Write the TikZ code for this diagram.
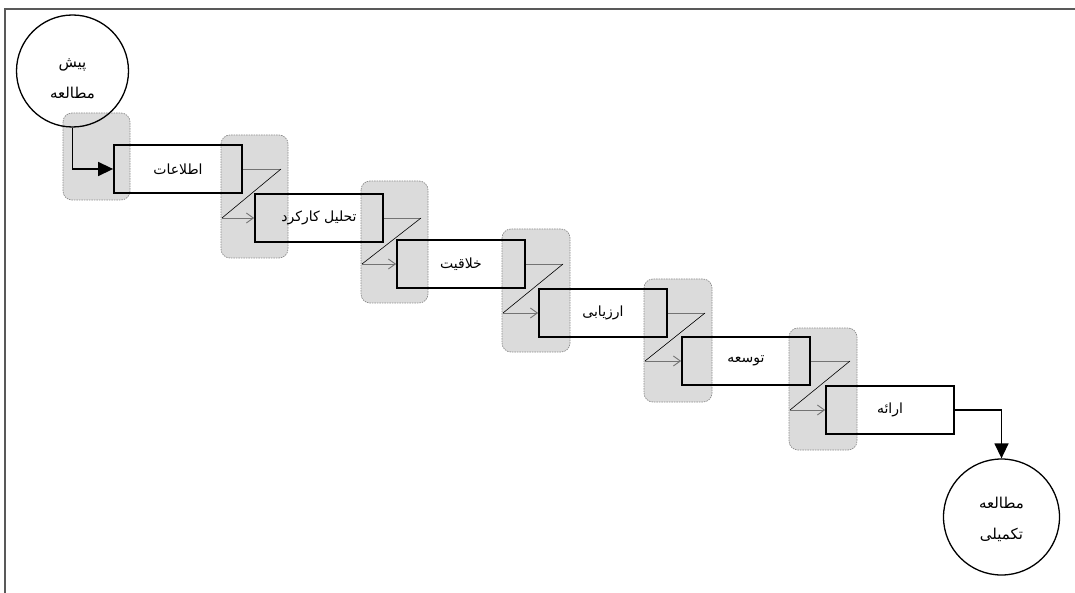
\documentclass[tikz,border=0pt]{standalone}
\usepackage{fontspec}
\newfontfamily\arabicfont[Script=Arabic]{DejaVu Sans}
\TeXXeTstate=1
\usetikzlibrary{arrows.meta}
\begin{document}
\begin{tikzpicture}[x=1pt,y=-1pt,
  stepbox/.style={draw=black, line width=1.8pt, minimum width=128pt, minimum height=48pt, inner sep=0pt, font=\arabicfont\fontsize{14}{16}\selectfont},
  graybox/.style={fill=black!14, draw=black!45, dash pattern=on 1.5pt off 1pt, line width=0.7pt, rounded corners=9pt},
  endcircle/.style={circle, draw=black, line width=1.3pt, minimum size=#1, inner sep=0pt},
  circtext/.style={align=center, font=\arabicfont\fontsize{15}{31}\selectfont, inner sep=0pt},
  hline/.style={draw=black!55, line width=0.9pt},
  diag/.style={draw=black, line width=0.6pt},
  openarrow/.style={draw=black!55, line width=0.9pt, -{Straight Barb[length=7pt,width=10pt]}},
  mainarrow/.style={draw=black, line width=1.5pt, -{Triangle[length=15pt,width=14pt]}},
  frameline/.style={draw=black!65, line width=1.3pt}
]
\useasboundingbox (0,0) rectangle (1075,593);
\draw[frameline] (5,593) -- (5,9) -- (1075,9);

% gray boxes
\path[graybox] (63,113) rectangle (130,200);
\path[graybox] (221,135) rectangle (288,258);
\path[graybox] (361,181) rectangle (428,303);
\path[graybox] (502,229) rectangle (570,352);
\path[graybox] (644,279) rectangle (712,402);
\path[graybox] (789,328) rectangle (857,450);

% step boxes
\node[stepbox] (r1) at (178,169) {\beginR اطلاعات\endR};
\node[stepbox] (r2) at (319,218) {\beginR تحلیل کارکرد\endR};
\node[stepbox] (r3) at (461,264) {\beginR خلاقیت\endR};
\node[stepbox] (r4) at (603,313) {\beginR ارزیابی\endR};
\node[stepbox] (r5) at (746,361) {\beginR توسعه\endR};
\node[stepbox] (r6) at (890,410) {\beginR ارائه\endR};

% circles
\node[endcircle=112pt] (c1) at (72.5,71) {};
\node[circtext] (c1t) at (72.5,79) {\beginR پیش\endR\\\beginR مطالعه\endR};
\node[endcircle=116pt] (c2) at (1001.5,517) {};
\node[circtext] (c2t) at (1001.5,519) {\beginR مطالعه\endR\\\beginR تکمیلی\endR};

% Z connectors
\coordinate (z2) at (281,169);  \coordinate (w2) at (222,218);
\coordinate (z3) at (421,218);  \coordinate (w3) at (362,264);
\coordinate (z4) at (563,264);  \coordinate (w4) at (503,313);
\coordinate (z5) at (705,313);  \coordinate (w5) at (645,361);
\coordinate (z6) at (850,361);  \coordinate (w6) at (790,410);
\foreach \p/\k in {1/2,2/3,3/4,4/5,5/6}{
  \draw[hline] (r\p.east) -- (z\k);
  \draw[diag] (z\k) -- (w\k);
  \draw[openarrow] (w\k) -- (r\k.west);
}

% main arrows
\draw[mainarrow] (c1.south) |- (r1.west);
\draw[mainarrow] (r6.east) -| (c2.north);
\end{tikzpicture}
\end{document}
